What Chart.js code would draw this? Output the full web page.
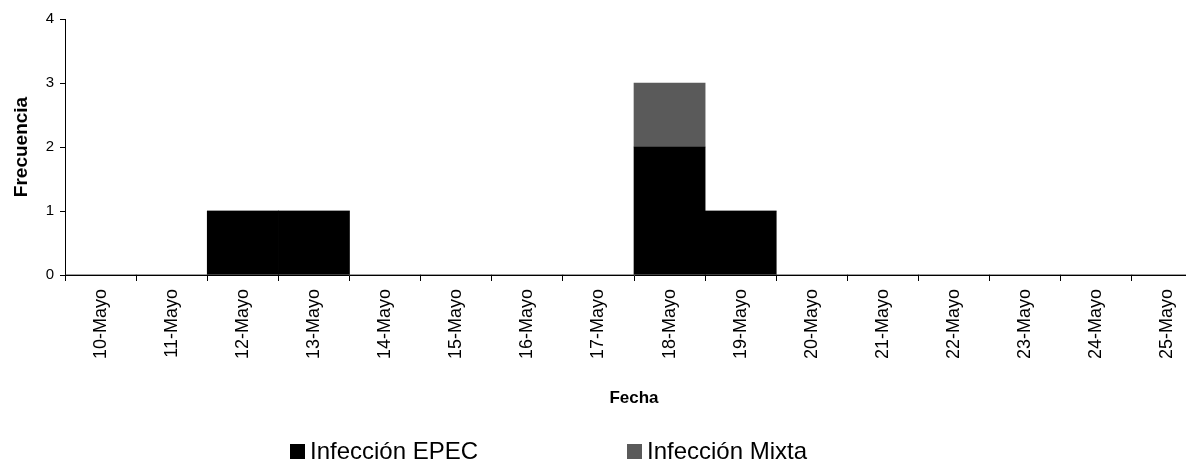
<!DOCTYPE html>
<html>
<head>
<meta charset="utf-8">
<script src="https://cdn.jsdelivr.net/npm/chart.js@4/dist/chart.umd.min.js"></script>
<style>
  html, body { margin: 0; padding: 0; background: #ffffff; overflow: hidden; }
  #wrap { position: relative; width: 1186px; height: 461px; overflow: hidden; }
  #box { position: absolute; left: 0; top: 0; width: 1215px; height: 461px; }
  #legend { position: absolute; top: 437px; left: 0; width: 1186px; height: 28px;
            font-family: "Liberation Sans", Arial, sans-serif; font-size: 24px; color: #000; }
  .item { position: absolute; top: 0; display: flex; align-items: center; white-space: nowrap; line-height: 28px; }
  .sw { display: inline-block; width: 15px; height: 15px; margin-right: 5px; }
</style>
</head>
<body>
<div id="wrap">
  <div id="box"><canvas id="c"></canvas></div>
  <div id="legend"></div>
</div>
<script>
const categories = ["10-Mayo","11-Mayo","12-Mayo","13-Mayo","14-Mayo","15-Mayo","16-Mayo","17-Mayo","18-Mayo","19-Mayo","20-Mayo","21-Mayo","22-Mayo","23-Mayo","24-Mayo","25-Mayo"];
const epec  = [0,0,1,1,0,0,0,0,2,1,0,0,0,0,0,0];
const mixta = [0,0,0,0,0,0,0,0,1,0,0,0,0,0,0,0];
const seriesNames = ["Infección EPEC", "Infección Mixta"];
const seriesColors = ["#000000", "#5a5a5a"];
const yTicks = [0,1,2,3,4];
const xTitle = "Fecha";
const yTitle = "Frecuencia";

const font = "'Liberation Sans', Arial, sans-serif";

new Chart(document.getElementById('c'), {
  type: 'bar',
  data: {
    labels: categories,
    datasets: [
      { label: seriesNames[0], data: epec, backgroundColor: seriesColors[0], borderWidth: 0, barPercentage: 1, categoryPercentage: 1 },
      { label: seriesNames[1], data: mixta, backgroundColor: seriesColors[1], borderWidth: 0, barPercentage: 1, categoryPercentage: 1 }
    ]
  },
  options: {
    responsive: true,
    maintainAspectRatio: false,
    animation: false,
    layout: { padding: { top: 19, right: 12, bottom: 52, left: 0 } },
    plugins: { legend: { display: false }, tooltip: { enabled: false } },
    scales: {
      x: {
        stacked: true,
        grid: { display: true, drawOnChartArea: false, drawTicks: true, tickLength: 6, color: '#000', offset: true },
        border: { display: true, color: '#000', width: 1 },
        ticks: { color: '#000', font: { family: font, size: 18 }, minRotation: 90, maxRotation: 90, padding: 8, autoSkip: false },
        title: { display: true, text: xTitle, color: '#000', font: { family: font, size: 17, weight: 'bold' }, padding: { top: 6, bottom: 0 } },
        afterFit: (s) => { s.height = 134; }
      },
      y: {
        stacked: true,
        min: 0, max: 4,
        afterBuildTicks: (s) => { s.ticks = yTicks.map(v => ({ value: v })); },
        grid: { display: true, drawOnChartArea: false, drawTicks: true, tickLength: 5, color: '#000' },
        border: { display: true, color: '#000', width: 1 },
        ticks: { color: '#000', font: { family: font, size: 15 }, padding: 6 },
        title: { display: true, text: yTitle, color: '#000', font: { family: font, size: 19, weight: 'bold' }, padding: { top: 10, bottom: 4 } },
        afterFit: (s) => { s.width = 65; }
      }
    }
  }
});

const legend = document.getElementById('legend');
const lefts = [290, 627];
seriesNames.forEach((n, i) => {
  const it = document.createElement('div');
  it.className = 'item';
  it.style.left = lefts[i] + 'px';
  const sw = document.createElement('span');
  sw.className = 'sw';
  sw.style.background = seriesColors[i];
  it.appendChild(sw);
  const t = document.createElement('span');
  t.textContent = n;
  it.appendChild(t);
  legend.appendChild(it);
});
</script>
</body>
</html>
